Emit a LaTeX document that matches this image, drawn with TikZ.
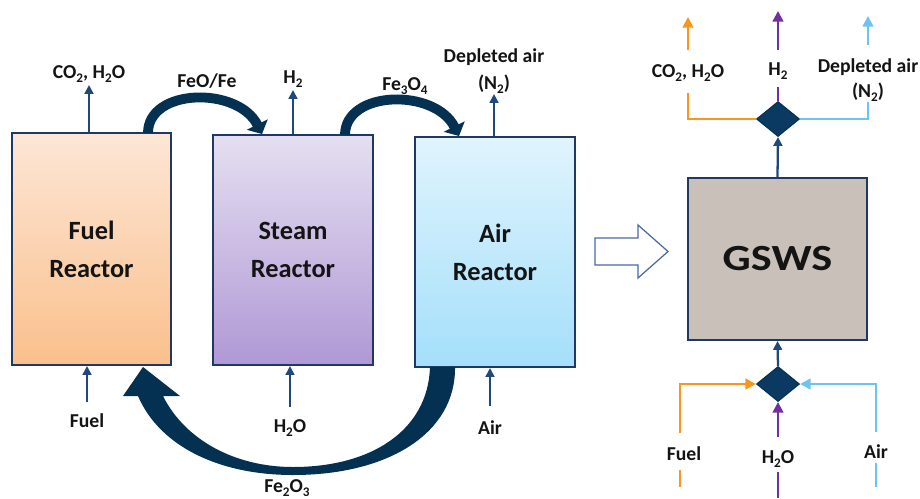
\documentclass[tikz,border=0pt]{standalone}
\usepackage{fontspec}
\setmainfont{Carlito}
\usetikzlibrary{arrows.meta,shapes.geometric}
\definecolor{navy}{RGB}{31,56,100}
\definecolor{fatnavy}{RGB}{4,48,82}
\definecolor{thinnavy}{RGB}{31,73,125}
\definecolor{dianavy}{RGB}{10,58,98}
\definecolor{txt}{RGB}{20,20,20}
\definecolor{oline}{RGB}{250,150,30}
\definecolor{pline}{RGB}{112,48,160}
\definecolor{bline}{RGB}{110,196,240}
\definecolor{gsfill}{RGB}{201,192,185}
\definecolor{barrow}{RGB}{70,105,165}
\newcommand\mysub[1]{\raisebox{-0.5ex}{\fontsize{7.5}{8}\selectfont #1}}
\begin{document}
\begin{tikzpicture}[x=0.02cm,y=-0.02cm,
  box/.style={draw=navy, line width=1.2pt, inner sep=0, align=center, text=txt,
    font=\fontsize{15}{21.5}\selectfont\bfseries},
  lab/.style={font=\fontsize{11.2}{12}\selectfont\bfseries, text=txt, inner sep=0, anchor=base},
  tarr/.style={draw=thinnavy, line width=1.1pt, -{Triangle[length=5pt,width=5pt]}},
  fatarrow/.style={draw=fatnavy, line width=5.6pt, -{Triangle[length=6pt,width=13pt]}},
  dia/.style={diamond, draw=fatnavy, fill=dianavy, line width=0.6pt, inner sep=0,
    minimum width=0.86cm, minimum height=0.70cm},
  cl/.style={line width=1.4pt},
  carr/.style={line width=1.4pt, -{Triangle[length=6pt,width=6pt]}}
]
\useasboundingbox (0,0) rectangle (920,498);

% reactors
\node[box, minimum width=3.18cm, minimum height=4.64cm,
  top color={rgb,255:red,253;green,230;blue,214}, bottom color={rgb,255:red,250;green,192;blue,140}]
  (fuel) at (91.5,249) {Fuel\\Reactor};
\node[box, minimum width=3.20cm, minimum height=4.60cm,
  top color={rgb,255:red,229;green,223;blue,241}, bottom color={rgb,255:red,176;green,152;blue,213}]
  (steam) at (293,250) {Steam\\Reactor};
\node[box, minimum width=3.20cm, minimum height=4.60cm,
  top color={rgb,255:red,224;green,244;blue,253}, bottom color={rgb,255:red,164;green,223;blue,250}]
  (air) at (495,252) {Air\\Reactor};

% top labels
\node[lab] (co2) at (89,78) {CO\mysub{2}, H\mysub{2}O};
\node[lab] (h2) at (293,83) {H\mysub{2}};
\node[lab] (feo) at (207,87) {FeO/Fe};
\node[lab] (fe3) at (405,90) {Fe\mysub{3}O\mysub{4}};
\node[lab] (dep) at (494,62) {Depleted air};
\node[lab] (n2) at (494,89) {(N\mysub{2})};

\coordinate (c1) at (89,85);
\coordinate (c2) at (293,90);
\coordinate (c3) at (494,94);
\draw[tarr] (fuel.north -| c1) -- (c1);
\draw[tarr] (steam.north -| c2) -- (c2);
\draw[tarr] (air.north -| c3) -- (c3);

% bottom labels
\node[lab] (fuellab) at (87,427) {Fuel};
\node[lab] (h2olab) at (290,432) {H\mysub{2}O};
\node[lab] (airlab) at (490,434) {Air};
\node[lab] (fe2) at (287,492) {Fe\mysub{2}O\mysub{3}};
\coordinate (b1) at (87,402);
\coordinate (b2) at (290,407);
\coordinate (b3) at (490,406);
\draw[tarr] (b1) -- (b1 |- fuel.south);
\draw[tarr] (b2) -- (b2 |- steam.south);
\draw[tarr] (b3) -- (b3 |- air.south);

% curved solid arrows
\coordinate (s1) at (148,133);
\coordinate (e1) at (262,134);
\coordinate (s2) at (345,135);
\coordinate (e2) at (459,136);
\draw[fatarrow] (s1) .. controls (148,88) and (238,86) .. (e1);
\draw[fatarrow] (s2) .. controls (345,90) and (435,88) .. (e2);

\fill[fatnavy] (430,367) -- (455,367)
  .. controls (456,432) and (390,475) .. (293,475)
  .. controls (220,475) and (160,447) .. (138,396)
  -- (123,396) -- (143,367) -- (180,396) -- (163,396)
  .. controls (185,440) and (235,467) .. (293,467)
  .. controls (372,467) and (428,430) .. (430,367) -- cycle;

% block arrow
\draw[barrow, line width=0.7pt, line join=miter]
  (595,238) -- (638,238) -- (638,225) -- (668,251.5) -- (638,278) -- (638,265) -- (595,265) -- cycle;

% GSWS
\node[box, fill=gsfill, minimum width=3.58cm, minimum height=3.24cm,
  font=\fontsize{21}{24}\selectfont\bfseries] (g) at (777.5,259) {\scalebox{1.2}[1]{GSWS}};
\node[dia] (dtop) at (778,119) {};
\node[dia] (dbot) at (778,384) {};
\draw[tarr, line width=1.3pt] (g.north) -- (dtop.south);
\draw[tarr, line width=1.3pt] (dbot.north) -- (g.south);

% right top
\node[lab] (rco2) at (688,77) {CO\mysub{2}, H\mysub{2}O};
\node[lab] (rh2) at (778,75) {H\mysub{2}};
\node[lab] (rdep) at (868,72) {Depleted air};
\node[lab] (rn2) at (868,97) {(N\mysub{2})};
\coordinate (ro) at (688,93);
\coordinate (rp) at (778,87);
\coordinate (rb) at (868,102);
\draw[cl, oline] (dtop.west) -| (ro);
\draw[cl, pline] (dtop.north) -- (rp);
\draw[cl, bline] (dtop.east) -| (rb);
\coordinate (ro1) at (688,50); \coordinate (ro2) at (688,17);
\coordinate (rp1) at (778,50); \coordinate (rp2) at (778,11);
\coordinate (rb1) at (868,45); \coordinate (rb2) at (868,16);
\draw[carr, oline] (ro1) -- (ro2);
\draw[carr, pline] (rp1) -- (rp2);
\draw[carr, bline] (rb1) -- (rb2);

% right bottom
\node[lab] (rfuel) at (684,460) {Fuel};
\node[lab] (rh2o) at (778,463) {H\mysub{2}O};
\node[lab] (rair) at (876,458) {Air};
\coordinate (qo) at (680,433);
\coordinate (qp) at (778,437);
\coordinate (qb) at (876,432);
\draw[carr, oline] (qo) |- (dbot.west);
\draw[carr, pline] (qp) -- (dbot.south);
\draw[carr, bline] (qb) |- (dbot.east);
\coordinate (qo1) at (680,470); \coordinate (qo2) at (680,487);
\coordinate (qp1) at (778,472); \coordinate (qp2) at (778,498);
\coordinate (qb1) at (876,463); \coordinate (qb2) at (876,487);
\draw[cl, oline] (qo1) -- (qo2);
\draw[cl, pline] (qp1) -- (qp2);
\draw[cl, bline] (qb1) -- (qb2);
\end{tikzpicture}
\end{document}
